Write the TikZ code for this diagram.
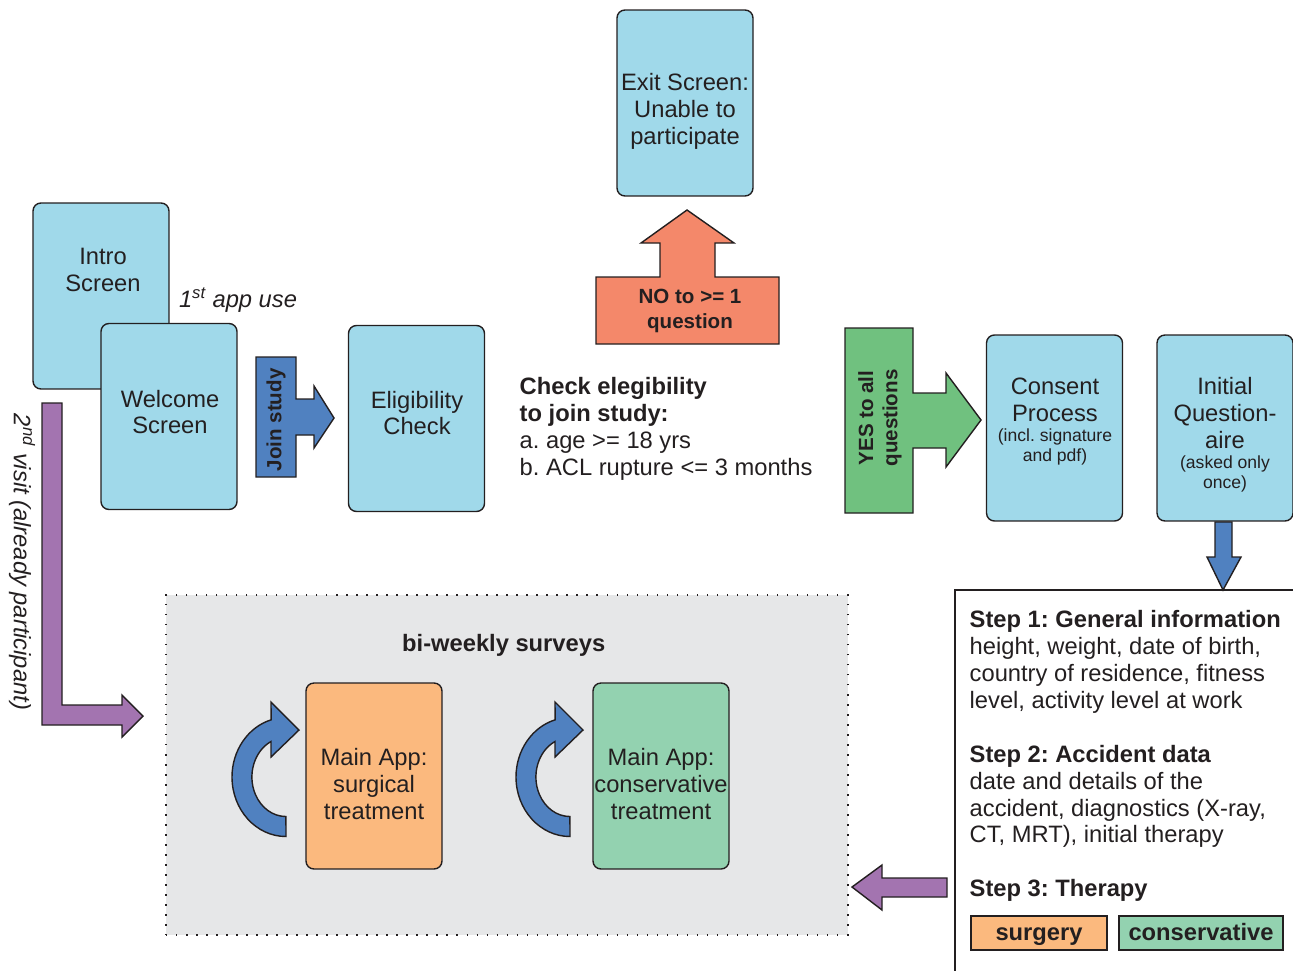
\documentclass[tikz,border=0pt]{standalone}
\usepackage{fontspec}
\setmainfont{Liberation Sans}
\frenchspacing
\definecolor{ink}{HTML}{231F20}
\definecolor{scrblue}{HTML}{A0D9EA}
\definecolor{arrblue}{HTML}{5081C0}
\definecolor{nored}{HTML}{F4886A}
\definecolor{yesgreen}{HTML}{70C17F}
\definecolor{visitpurple}{HTML}{A374B0}
\definecolor{surgfill}{HTML}{FBB97E}
\definecolor{consfill}{HTML}{93D2B0}
\definecolor{loopgrey}{HTML}{E6E7E8}
\newcommand\bigtxt{\fontsize{13.5}{15.3}\selectfont}
\newcommand\smalltxt{\fontsize{10}{11.3}\selectfont}
\newcommand\arrtxt{\fontsize{11.7}{13.8}\selectfont\bfseries}
\tikzset{
    screen/.style={draw=ink, fill=scrblue, rounded corners=4.5pt,
        minimum width=2.72cm, minimum height=3.72cm, inner sep=0pt,
        align=center, font=\bigtxt},
    boxtext/.style={align=center, inner sep=0pt, font=\bigtxt},
    smallnote/.style={align=center, inner sep=0pt, font=\smalltxt},
    arrowtext/.style={align=center, inner sep=0pt, font=\arrtxt},
    blockarrow/.style={draw=ink, line join=miter},
    tag/.style={draw=ink, minimum height=0.68cm, inner sep=0pt,
        text height=12pt, text depth=3.3pt, font=\bigtxt\bfseries},
    remark/.style={inner sep=0pt, font=\bigtxt\itshape},
}

\begin{document}
\begin{tikzpicture}[x=0.02cm, y=0.02cm, color=ink, line width=0.8pt]
        \useasboundingbox (0,0) rectangle (1293,-970);
        % survey loop area
        \node[draw=ink, fill=loopgrey, line width=0.8pt, dash pattern=on 0.8pt off 4.9pt,
            minimum width=13.64cm, minimum height=6.8cm] (loop) at (507,-765) {};
        \node[boxtext, font=\bigtxt\bfseries] (looptitle) at (507,-645) {
            bi-weekly surveys
        };
        % screens
        \node[screen] (exit) at (685,-103) {};
        \node[boxtext] (exittxt) at (685,-111) {
            Exit Screen:\\Unable to\\participate
        };
        \node[screen] (intro) at (101,-296) {};
        \node[boxtext] (introtxt) at (103,-270) {
            Intro\\Screen
        };
        \node[screen] (welcome) at (169,-416.5) {};
        \node[boxtext] (welcometxt) at (170,-412) {
            Welcome\\Screen
        };
        \node[screen] (elig) at (416.5,-418.5) {};
        \node[boxtext] (eligtxt) at (417,-413) {
            Eligibility\\Check
        };
        \node[screen] (consent) at (1054.5,-428) {};
        \node[boxtext] (consenttxt) at (1055,-399.5) {
            Consent\\Process
        };
        \node[smallnote] (consentnote) at (1055,-447) {
            (incl. signature\\and pdf)
        };
        \node[screen] (initq) at (1225,-428) {};
        \node[boxtext] (initqtxt) at (1225,-413) {
            Initial\\Question-\\aire
        };
        \node[smallnote] (initqnote) at (1225,-474) {
            (asked only\\once)
        };
        \node[screen, fill=surgfill] (surg) at (374,-776) {};
        \node[boxtext] (surgtxt) at (374,-784) {
            Main App:\\surgical\\treatment
        };
        \node[screen, fill=consfill] (cons) at (661,-776) {};
        \node[boxtext] (constxt) at (661,-784) {
            Main App:\\conservative\\treatment
        };
        % loose texts
        \node[remark] (firstuse) at (238,-300) {
            1\textsuperscript{st} app use
        };
        \node[remark, rotate=-90] (secondvisit) at (22,-562) {
            2\textsuperscript{nd} visit (already participant)
        };
        \node[boxtext, align=left, anchor=north west] (criteria) at (519,-377) {
            \textbf{Check elegibility}\\\textbf{to join study:}\\a. age >= 18 yrs\\b. ACL rupture <= 3 months
        };
        % block arrows
        \draw[blockarrow, fill=arrblue] (256,-357) -- (296,-357) -- (296,-399) -- (314,-399)
            -- (314,-386) -- (334,-418) -- (314,-448) -- (314,-435) -- (296,-435)
            -- (296,-477) -- (256,-477) -- cycle;
        \node[arrowtext, rotate=90] (jointxt) at (276,-417) {
            Join study
        };
        \draw[blockarrow, fill=nored] (596,-277) -- (660,-277) -- (660,-243) -- (641,-243)
            -- (687,-210) -- (734,-243) -- (715,-243) -- (715,-277) -- (779,-277)
            -- (779,-344) -- (596,-344) -- cycle;
        \node[arrowtext] (notxt) at (690,-311) {
            NO to >= 1\\question
        };
        \draw[blockarrow, fill=yesgreen] (845,-328) -- (913,-328) -- (913,-393) -- (946,-393)
            -- (946,-373) -- (981,-420) -- (946,-467) -- (946,-448) -- (913,-448)
            -- (913,-513) -- (845,-513) -- cycle;
        \node[arrowtext, rotate=90] (yestxt) at (880,-418) {
            YES to all\\questions
        };
        \draw[blockarrow, fill=arrblue] (1215,-522) -- (1232,-522) -- (1232,-557) -- (1241,-557)
            -- (1223,-590) -- (1207,-557) -- (1215,-557) -- cycle;
        \draw[blockarrow, fill=visitpurple] (42,-403) -- (62,-403) -- (62,-705) -- (122,-705)
            -- (122,-695) -- (143,-716) -- (122,-737) -- (122,-725) -- (42,-725) -- cycle;
        \draw[blockarrow, fill=visitpurple] (947,-878) -- (882,-878) -- (882,-865) -- (852,-887)
            -- (882,-910) -- (882,-897) -- (947,-897) -- cycle;
        % loop arrows
        \draw[blockarrow, fill=arrblue] (286,-836.5)
            arc[start angle=270, end angle=106, x radius=54, y radius=59.5]
            -- (271,-702) -- (299,-730) -- (271,-757) -- (271,-741.5)
            arc[start angle=116, end angle=270, x radius=34, y radius=39.5] -- cycle;
        \draw[blockarrow, fill=arrblue, shift={(284,0)}] (286,-836.5)
            arc[start angle=270, end angle=106, x radius=54, y radius=59.5]
            -- (271,-702) -- (299,-730) -- (271,-757) -- (271,-741.5)
            arc[start angle=116, end angle=270, x radius=34, y radius=39.5] -- cycle;
        % questionnaire steps
        \draw (955,-975) |- (1300,-590);
        \node[boxtext, align=left, anchor=north west] (steps) at (969,-610) {
            \textbf{Step 1: General information}\\height, weight, date of birth,\\country of residence, fitness\\level, activity level at work\\[15.3pt]
            \textbf{Step 2: Accident data}\\date and details of the\\accident, diagnostics (X-ray,\\CT, MRT), initial therapy\\[15.3pt]
            \textbf{Step 3: Therapy}
        };
        \node[tag, fill=surgfill, minimum width=2.72cm] (surgtag) at (1039,-933) {
            surgery
        };
        \node[tag, fill=consfill, minimum width=3.28cm] (constag) at (1201,-933) {
            conservative
        };
\end{tikzpicture}
\end{document}
